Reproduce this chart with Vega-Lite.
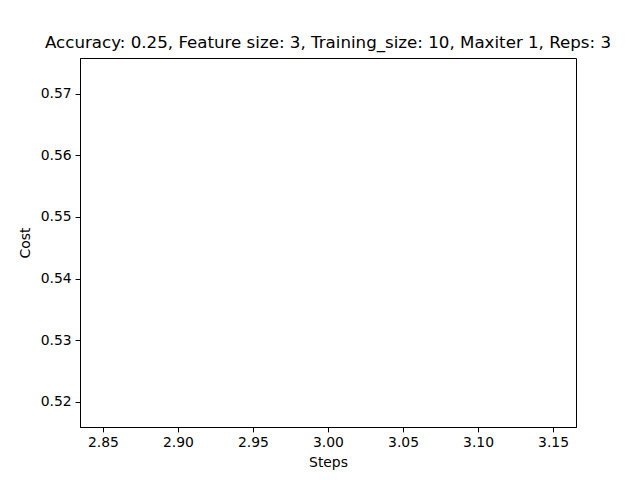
{
  "$schema": "https://vega.github.io/schema/vega-lite/v6.json",
  "autosize": "none",
  "width": 496,
  "height": 369,
  "padding": {"left": 80, "top": 58, "right": 64, "bottom": 53},
  "background": "white",
  "title": {"text": "Accuracy: 0.25, Feature size: 3, Training_size: 10, Maxiter 1, Reps: 3", "fontSize": 16.67, "fontWeight": "normal", "font": "DejaVu Sans", "color": "black", "offset": 6, "anchor": "middle"},
  "data": {"values": [{"Steps": 3, "Cost": 0.5459}]},
  "mark": {"type": "line", "color": "#1f77b4"},
  "encoding": {
    "x": {"field": "Steps", "type": "quantitative", "scale": {"domain": [2.8347, 3.1653], "nice": false, "zero": false},
      "axis": {"title": "Steps", "values": [2.85, 2.9, 2.95, 3.0, 3.05, 3.1, 3.15], "format": ".2f", "grid": false, "domainColor": "black", "tickColor": "black", "labelColor": "black", "titleColor": "black", "labelFont": "DejaVu Sans", "titleFont": "DejaVu Sans", "labelFontSize": 13.9, "titleFontSize": 13.9, "titleFontWeight": "normal", "tickSize": 4.9, "labelPadding": 4, "titlePadding": 6}},
    "y": {"field": "Cost", "type": "quantitative", "scale": {"domain": [0.5159, 0.5758], "nice": false, "zero": false},
      "axis": {"title": "Cost", "values": [0.52, 0.53, 0.54, 0.55, 0.56, 0.57], "format": ".2f", "grid": false, "domainColor": "black", "tickColor": "black", "labelColor": "black", "titleColor": "black", "labelFont": "DejaVu Sans", "titleFont": "DejaVu Sans", "labelFontSize": 13.9, "titleFontSize": 13.9, "titleFontWeight": "normal", "tickSize": 4.9, "labelPadding": 4, "titlePadding": 8}}
  },
  "config": {"view": {"stroke": "black", "strokeWidth": 1}}
}
